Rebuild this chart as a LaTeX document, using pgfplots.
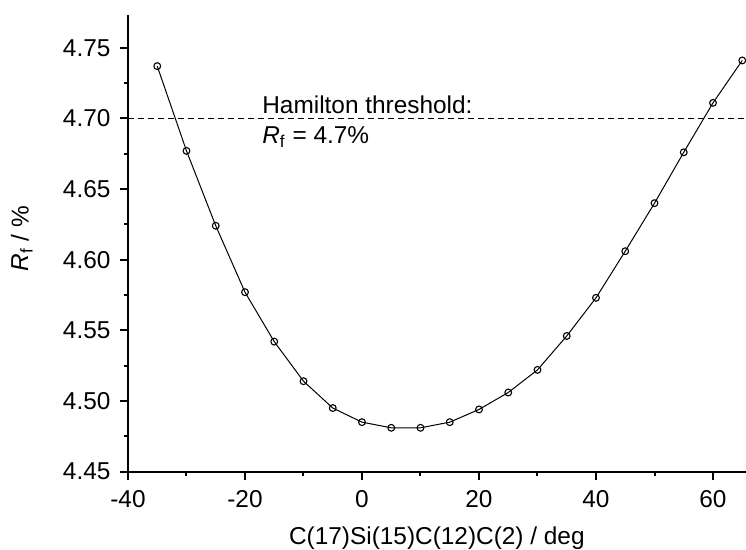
\documentclass[border=0pt]{standalone}
\usepackage{fontspec}
\setmainfont{Liberation Sans}
\usepackage{pgfplots}
\pgfplotsset{compat=1.18}
\begin{document}
\begin{tikzpicture}
\fontsize{12.2}{14}\selectfont
\begin{axis}[
  scale only axis,
  width=308.9pt, height=228.2pt,
  xmin=-40, xmax=65.6, ymin=4.45, ymax=4.773,
  axis x line=bottom, axis y line=left,
  axis line style={-, line width=1pt},
  xtick={-40,-20,0,20,40,60},
  ytick={4.45,4.50,4.55,4.60,4.65,4.70,4.75},
  minor x tick num=1, minor y tick num=1,
  tick align=outside,
  major tick length=4pt, minor tick length=2pt,
  every tick/.style={black, line width=1pt},
  yticklabel style={/pgf/number format/fixed, /pgf/number format/precision=2, /pgf/number format/fixed zerofill},
  /pgf/number format/assume math mode=true,
  ticklabel style={font=\fontsize{12.2}{14}\selectfont},
  xticklabel style={yshift=-1pt},
  yticklabel style={xshift=-0.5pt},
  label style={font=\fontsize{12.2}{14}\selectfont},
  xlabel={C(17)Si(15)C(12)C(2) / deg},
  ylabel={\textit{R}\textsubscript{f} / \%},
  xlabel style={at={(axis description cs:0.5,0)}, anchor=base, yshift=-36.3pt},
  ylabel style={at={(axis description cs:-0.172,0.51)}, anchor=center},
  clip=false,
]
\addplot[black, line width=0.5pt, mark=o, mark size=1.7pt, mark options={fill=white, line width=0.55pt}] coordinates {
(-35,4.737) (-30,4.677) (-25,4.624) (-20,4.577) (-15,4.542) (-10,4.514) (-5,4.495)
(0,4.485) (5,4.481) (10,4.481) (15,4.485) (20,4.494) (25,4.506) (30,4.522)
(35,4.546) (40,4.573) (45,4.606) (50,4.640) (55,4.676) (60,4.711) (65,4.741)
};
\addplot[black, line width=0.5pt, dash pattern=on 3pt off 2pt] coordinates {(-40,4.70) (65.6,4.70)};
\node[anchor=base west, inner sep=0pt, yshift=2.5pt] at (axis cs:-17.1,4.70) {Hamilton threshold:};
\node[anchor=base west, inner sep=0pt, yshift=-12.5pt] at (axis cs:-17.1,4.70) {\textit{R}\textsubscript{f} = 4.7\%};
\coordinate (bl) at (axis cs:-61.88,4.3946);
\coordinate (tr) at (axis cs:65.64,4.7838);
\end{axis}
\pgfresetboundingbox
\path[use as bounding box] (bl) rectangle (tr);
\end{tikzpicture}
\end{document}
